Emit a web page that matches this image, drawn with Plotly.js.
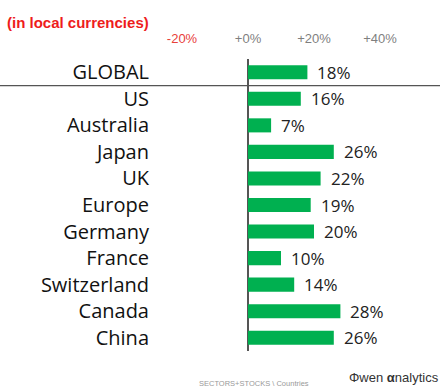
<!DOCTYPE html>
<html><head><meta charset="utf-8">
<script src="https://cdn.plot.ly/plotly-3.0.1.min.js"></script>
<style>html,body{margin:0;padding:0;background:#fff}#c{width:442px;height:388px}</style>
</head><body><div id="c"></div>
<script>
const categories = ["GLOBAL","US","Australia","Japan","UK","Europe","Germany","France","Switzerland","Canada","China"];
const returns = [18,16,7,26,22,19,20,10,14,28,26];
const tickValues = [-20,0,20,40];
const tickLabels = ['<span style="color:#e8403a">-20%</span>','+0%','+20%','+40%'];

const L=150,R=2,T=59,B=37,W=442-L-R,H=388-T-B;
const pxPerUnit=3.3, zeroPx=248;
const xmin=-(zeroPx-L)/pxPerUnit, xmax=xmin+W/pxPerUnit;

const trace={type:'bar',orientation:'h',x:returns,y:categories,
  marker:{color:'#00b050'},width:0.53,hoverinfo:'skip'};

const valueAnns=categories.map((c,i)=>({x:returns[i],y:c,xref:'x',yref:'y',
  text:returns[i]+'%',showarrow:false,xanchor:'left',xshift:8,
  font:{family:'Open Sans, Liberation Sans',size:17,color:'#222'}}));

const layout={
  width:442,height:388,margin:{l:L,r:R,t:T,b:B},
  paper_bgcolor:'#fff',plot_bgcolor:'#fff',showlegend:false,
  title:{text:'(in local currencies)',xref:'container',yref:'container',x:7/442,xanchor:'left',
    y:1-23/388,yanchor:'middle',font:{family:'Liberation Sans, Arial',size:15,color:'#ee1c1c',weight:'bold'}},
  xaxis:{range:[xmin,xmax],side:'top',tickvals:tickValues,ticktext:tickLabels,
    tickfont:{family:'Liberation Sans, Arial',size:13,color:'#7f7f7f'},
    showgrid:false,zeroline:true,zerolinecolor:'#555',zerolinewidth:1.5,showline:false,ticks:'',
    ticklabelstandoff:12,fixedrange:true},
  yaxis:{type:'category',categoryarray:categories,range:[categories.length-0.5,-0.5],
    showgrid:false,zeroline:false,showline:false,ticks:'',
    tickfont:{family:'Open Sans, Liberation Sans',size:20,color:'#111'},fixedrange:true},
  shapes:[{type:'line',xref:'paper',yref:'y',x0:-L/W,x1:1,y0:0.5,y1:0.5,line:{color:'#555',width:1.2}}],
  annotations:valueAnns.concat([
    {xref:'paper',yref:'paper',x:(254-L)/W,y:(T+H-383)/H,text:'SECTORS+STOCKS \\ Countries',showarrow:false,
     xanchor:'center',yanchor:'middle',font:{family:'Liberation Sans, Arial',size:7.5,color:'#999'}},
    {xref:'paper',yref:'paper',x:(441-L)/W,y:(T+H-377)/H,text:'Φwen <b>α</b>nalytics',showarrow:false,
     xanchor:'right',yanchor:'middle',font:{family:'Liberation Sans Narrow, Liberation Sans',size:13,color:'#333'}}
  ])
};
Plotly.newPlot('c',[trace],layout,{displayModeBar:false,staticPlot:true});
</script></body></html>
